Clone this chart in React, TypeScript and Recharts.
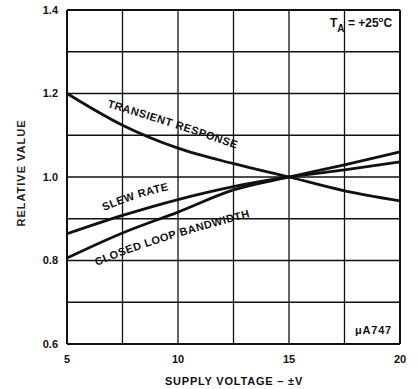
import {
  LineChart,
  Line,
  XAxis,
  YAxis,
  CartesianGrid,
  ReferenceLine,
  Customized,
} from "recharts";

// supply voltage (±V) and relative values for each curve
const voltage = [5, 7.5, 10, 12.5, 15, 17.5, 20];
const transientResponse = [1.2, 1.124, 1.069, 1.032, 1.0, 0.967, 0.943];
const slewRate = [0.864, 0.908, 0.946, 0.977, 1.0, 1.017, 1.036];
const closedLoopBandwidth = [0.806, 0.866, 0.916, 0.969, 1.0, 1.029, 1.06];

const xTicks = [5, 7.5, 10, 12.5, 15, 17.5, 20];
const yTicks = [0.6, 0.7, 0.8, 0.9, 1.0, 1.1, 1.2, 1.3, 1.4];
const xLabeled = [5, 10, 15, 20];

const data = voltage.map((v, i) => ({
  v,
  transient: transientResponse[i],
  slew: slewRate[i],
  bandwidth: closedLoopBandwidth[i],
}));

const FONT = "'Liberation Sans', Arial, Helvetica, sans-serif";
const INK = "#111";

const tickStyle = { fill: INK, fontSize: 11, fontWeight: 700, fontFamily: FONT };

function Annotations() {
  const label = {
    fill: INK,
    fontSize: 11,
    fontWeight: 700,
    fontFamily: FONT,
    letterSpacing: 0.5,
  } as const;
  return (
    <g>
      <defs>
        <path id="p-transient" d="M107,107 Q165,124 240,150" />
        <path id="p-slew" d="M104,211 Q140,195 180,188" />
        <path id="p-bandwidth" d="M97,266 Q145,244 258,215" />
      </defs>
      <text {...label}>
        <textPath href="#p-transient">TRANSIENT RESPONSE</textPath>
      </text>
      <text {...label}>
        <textPath href="#p-slew">SLEW RATE</textPath>
      </text>
      <text {...label}>
        <textPath href="#p-bandwidth">CLOSED LOOP BANDWIDTH</textPath>
      </text>

      <text x={330} y={27} fill={INK} fontSize={12} fontWeight={700} fontFamily={FONT}>
        <tspan>T</tspan>
        <tspan dy={5} fontSize={10}>A</tspan>
        <tspan dy={-5}> = +25</tspan>
        <tspan dy={-5} fontSize={8}>o</tspan>
        <tspan dy={5}>C</tspan>
      </text>

      <text x={355} y={334} fill={INK} fontSize={11} fontWeight={700} fontFamily={FONT} letterSpacing={0.8}>
        μA747
      </text>

      <text
        x={234}
        y={385}
        textAnchor="middle"
        fill={INK}
        fontSize={11}
        fontWeight={700}
        fontFamily={FONT}
        letterSpacing={0.8}
      >
        SUPPLY VOLTAGE – ±V
      </text>

      <text
        transform="translate(25,173) rotate(-90)"
        textAnchor="middle"
        fill="#222"
        fontSize={11}
        fontWeight={700}
        fontFamily={FONT}
        letterSpacing={1}
      >
        RELATIVE VALUE
      </text>
    </g>
  );
}

export default function App() {
  return (
    <div style={{ position: "absolute", left: 0, top: 0, width: 417, height: 389, background: "#fff" }}>
      <LineChart width={417} height={389} data={data} margin={{ top: 10, right: 17, bottom: 0, left: 0 }}>
        <CartesianGrid stroke={INK} strokeWidth={1.3} />
        <XAxis
          dataKey="v"
          type="number"
          domain={[5, 20]}
          ticks={xTicks}
          height={45}
          tickSize={0}
          tickMargin={11}
          tick={tickStyle}
          tickFormatter={(t: number) => (xLabeled.includes(t) ? String(t) : "")}
          axisLine={{ stroke: INK, strokeWidth: 2 }}
        />
        <YAxis
          type="number"
          domain={[0.6, 1.4]}
          ticks={yTicks}
          width={67}
          tickSize={0}
          tickMargin={9}
          tick={tickStyle}
          tickFormatter={(t: number) => (Math.round(t * 10) % 2 === 0 ? t.toFixed(1) : "")}
          axisLine={{ stroke: INK, strokeWidth: 2 }}
        />
        <ReferenceLine y={1.4} stroke={INK} strokeWidth={2} />
        <ReferenceLine x={20} stroke={INK} strokeWidth={2} />
        <Line dataKey="transient" type="monotone" stroke={INK} strokeWidth={2.8} dot={false} isAnimationActive={false} />
        <Line dataKey="slew" type="monotone" stroke={INK} strokeWidth={2.8} dot={false} isAnimationActive={false} />
        <Line dataKey="bandwidth" type="monotone" stroke={INK} strokeWidth={2.8} dot={false} isAnimationActive={false} />
        <Customized component={Annotations} />
      </LineChart>
    </div>
  );
}
